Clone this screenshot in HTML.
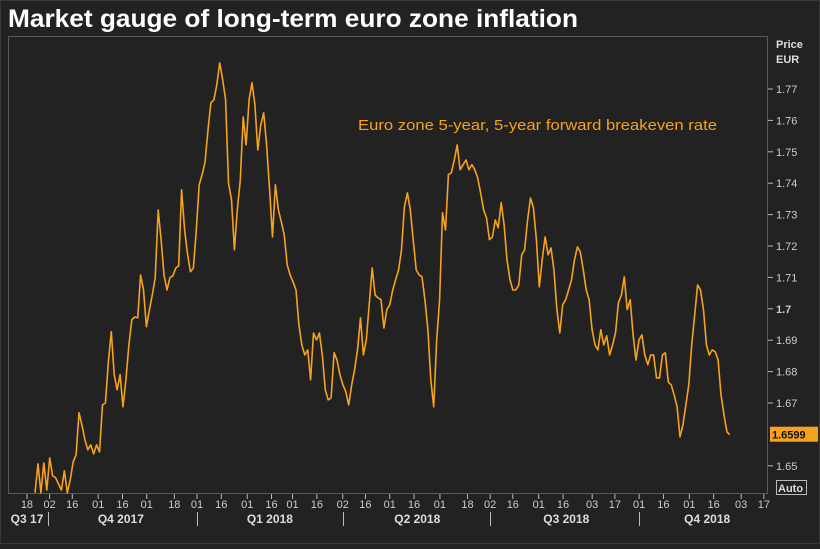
<!DOCTYPE html>
<html><head><meta charset="utf-8"><style>
html,body{margin:0;padding:0;background:#222;}
body{width:820px;height:544px;overflow:hidden;font-family:"Liberation Sans",sans-serif;}
svg text{font-family:"Liberation Sans",sans-serif;}
</style></head><body>
<svg id="chart" width="820" height="544" xmlns="http://www.w3.org/2000/svg">
<rect x="0" y="0" width="820" height="544" fill="#222"/>
<rect x="0.5" y="0.5" width="819" height="543" fill="none" stroke="#3a3a3a"/>
<text x="8" y="27" fill="#fff" font-size="25" font-weight="bold" textLength="570" lengthAdjust="spacingAndGlyphs">Market gauge of long-term euro zone inflation</text>
<rect x="8.5" y="36.5" width="759" height="457" fill="none" stroke="#5a5a5a"/>
<text x="776" y="48" fill="#ddd" font-size="11" font-weight="bold">Price</text>
<text x="776" y="63" fill="#ddd" font-size="11" font-weight="bold">EUR</text>
<text x="358" y="130" fill="#f7a21b" font-size="15" textLength="359" lengthAdjust="spacingAndGlyphs">Euro zone 5-year, 5-year forward breakeven rate</text>
<g id="yaxis"></g><g id="xaxis"></g><g id="series"></g>
<rect x="776.5" y="480.5" width="30" height="14" fill="none" stroke="#bbb"/>
<text x="778" y="492" fill="#ddd" font-size="11" font-weight="bold">Auto</text>
</svg>
<script>
const yTicks=[1.65,1.66,1.67,1.68,1.69,1.7,1.71,1.72,1.73,1.74,1.75,1.76,1.77];
const xTickDays=[-13,1,15,31,46,61,78,92,107,123,138,151,166,182,196,211,226,242,259,273,287,303,318,336,350,365,380,396,411,428,442];
const xTickLabels=["18","02","16","01","16","01","18","01","16","01","16","01","16","02","16","01","16","01","18","02","16","01","16","03","17","01","16","01","16","03","17"];
const quarterDays=[0,92,182,273,365];
const quarterLabels=["Q3 17","Q4 2017","Q1 2018","Q2 2018","Q3 2018","Q4 2018"];
const quarterLabelDays=[-23,45,137,228,320,407];
const dataStartDay=-8, dataEndDay=421;
const lastValue=1.6599;
const values=[1.6414,1.6506,1.6414,1.6509,1.6423,1.6525,1.6468,1.6462,1.6442,1.6423,1.6484,1.6414,1.6455,1.6513,1.6535,1.6669,1.6630,1.6583,1.6551,1.6567,1.6538,1.6567,1.6544,1.6694,1.6700,1.6828,1.6927,1.6790,1.6742,1.6790,1.6688,1.6774,1.6885,1.6965,1.6974,1.6971,1.7108,1.7060,1.6943,1.6997,1.7044,1.7099,1.7315,1.7220,1.7108,1.7060,1.7099,1.7105,1.7130,1.7137,1.7379,1.7251,1.7175,1.7118,1.7130,1.7251,1.7395,1.7427,1.7468,1.7570,1.7656,1.7666,1.7713,1.7783,1.7729,1.7666,1.7401,1.7347,1.7188,1.7315,1.7411,1.7611,1.7522,1.7666,1.7720,
1.7650,1.7506,1.7586,1.7624,1.7522,1.7379,1.7229,1.7395,1.7315,1.7277,1.7236,1.7140,1.7108,1.7086,1.7060,1.6949,1.6885,1.6853,1.6869,1.6774,1.6923,1.6901,1.6923,1.6853,1.6742,1.6710,1.6716,1.6860,1.6837,1.6790,1.6758,1.6736,1.6694,1.6758,1.6806,1.6869,1.6971,1.6853,1.6901,1.7013,1.7130,1.7044,1.7035,1.7029,1.6939,1.6997,1.7013,1.7060,1.7092,1.7124,1.7188,1.7325,1.7369,1.7315,1.7220,1.7124,1.7108,1.7102,1.7029,1.6933,1.6774,1.6688,1.6901,1.7029,1.7306,1.7251,1.7427,1.7433,1.7474,1.7522,1.7443,1.7459,1.7474,1.7443,1.7459,1.7443,1.7417,1.7369,1.7315,1.7290,1.7220,1.7229,
1.7283,1.7258,1.7338,1.7267,1.7156,1.7092,1.7060,1.7060,1.7076,1.7172,1.7188,1.7283,1.7353,1.7322,1.7220,1.7070,1.7156,1.7229,1.7172,1.7194,1.7124,1.6997,1.6923,1.7013,1.7029,1.7060,1.7092,1.7156,1.7197,1.7181,1.7124,1.7060,1.7029,1.6933,1.6885,1.6869,1.6933,1.6885,1.6914,1.6853,1.6885,1.6923,1.7019,1.7044,1.7102,1.6997,1.7029,1.6917,1.6837,1.6901,1.6917,1.6853,1.6822,1.6853,1.6853,1.6780,1.6780,1.6853,1.6860,1.6767,1.6758,1.6726,1.6688,1.6592,1.6630,1.6694,1.6758,1.6885,1.6981,1.7076,1.7060,1.6997,1.6885,1.6853,1.6869,1.6863,1.6837,1.6726,1.6662,1.6608,1.6599];

const NS="http://www.w3.org/2000/svg";
const L=8,R=768,T=36,B=494;
function yS(v){return 89+(1.77-v)*3140;}
function xD(d){return 48+d*149/92;}
function mk(tag,attrs,parent,text){const e=document.createElementNS(NS,tag);for(const k in attrs)e.setAttribute(k,attrs[k]);if(text!==undefined)e.textContent=text;parent.appendChild(e);return e;}
const ya=document.getElementById('yaxis'),xa=document.getElementById('xaxis'),sg=document.getElementById('series');
yTicks.forEach(v=>{
  if(v===1.66)return;
  const y=yS(v);
  const t=mk('line',{x1:R,x2:R+5,y1:y,y2:y,stroke:'#bbb'},ya);
  
  
  const lb=mk('text',{x:R+8,y:y+4,fill:'#ccc','font-size':11,'font-weight':v===1.7?'bold':'normal'},ya,String(v));
  
  
});
xTickDays.forEach((d,i)=>{
  const x=xD(d);
  const t=mk('line',{x1:x,x2:x,y1:B,y2:B+5,stroke:'#bbb'},xa);
  
  
  const lb=mk('text',{x:x,y:B+14,fill:'#ccc','font-size':11,'text-anchor':'middle'},xa,xTickLabels[i]);
  
  
});
quarterDays.forEach(d=>{
  const x=Math.round(xD(d))+0.5;
  const q=mk('line',{x1:x,x2:x,y1:B+18,y2:B+32,stroke:'#bbb'},xa);
  
  
});
quarterLabels.forEach((s,i)=>{
  const x=Math.max(27,xD(quarterLabelDays[i]));
  const lb=mk('text',{x:x,y:B+29,fill:'#ddd','font-size':12,'font-weight':'bold','text-anchor':'middle'},xa,s);
  
  
});
const n=values.length;
let pts=values.map((v,i)=>{const d=dataStartDay+(dataEndDay-dataStartDay)*i/(n-1);return xD(d).toFixed(1)+','+Math.min(B,yS(v)).toFixed(1);}).join(' ');
const pl=mk('polyline',{points:pts,fill:'none',stroke:'#f7a21b','stroke-width':1.6,'stroke-linejoin':'round'},sg);


const ly=yS(lastValue);
const lr=mk('rect',{x:R+2,y:ly-8,width:48,height:15,fill:'#f7a21b'},sg);


const lt=mk('text',{x:R+4,y:ly+4,fill:'#111','font-size':11,'font-weight':'bold'},sg,lastValue.toFixed(4));


</script>
</body></html>
